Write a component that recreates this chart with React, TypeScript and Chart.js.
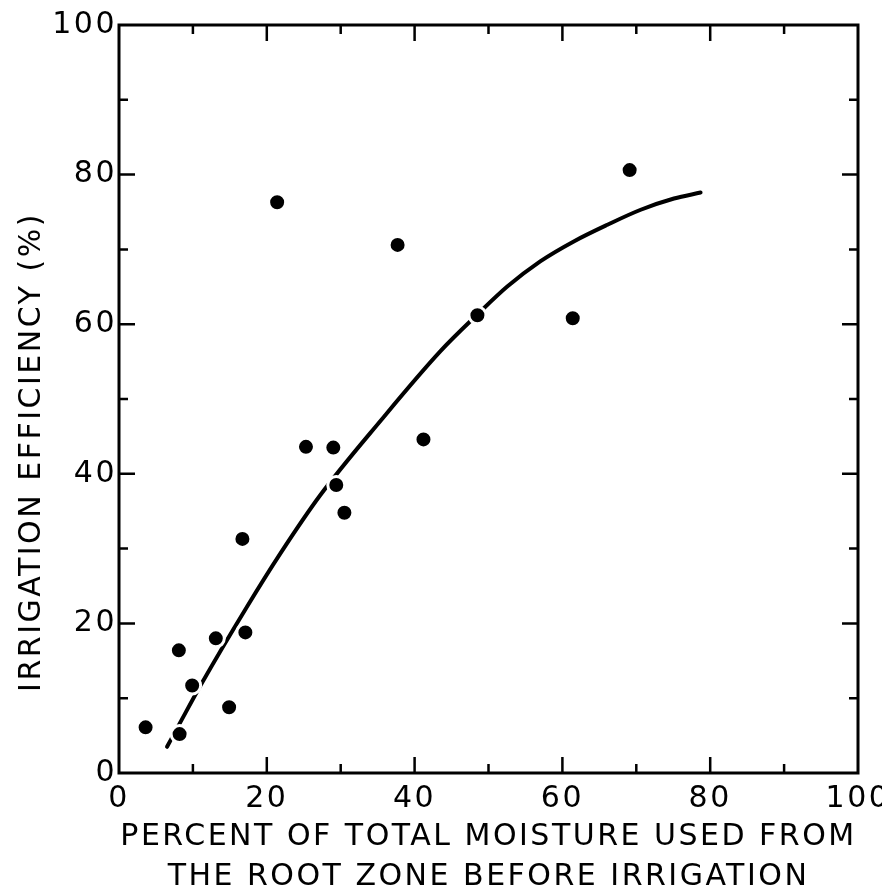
import React, { useEffect, useRef } from "react";
import { Chart, registerables } from "chart.js";

Chart.register(...registerables);

// Observed data points (percent moisture used, irrigation efficiency %)
const pointX = [3.6, 8.2, 8.1, 9.9, 13.1, 14.9, 16.7, 17.1, 21.4, 25.3, 29.0, 29.4, 30.5, 37.7, 41.2, 48.5, 61.4, 69.1];
const pointY = [6.1, 5.2, 16.4, 11.7, 18.0, 8.8, 31.3, 18.8, 76.3, 43.6, 43.5, 38.5, 34.8, 70.6, 44.6, 61.2, 60.8, 80.6];

// Fitted curve
const curveX = [6.5, 8.2, 11.2, 17.3, 21.8, 27.2, 35.4, 43.5, 48.5, 52.5, 57.0, 61.6, 66.1, 70.6, 75.1, 78.7];
const curveY = [3.5, 6.6, 12.0, 22.2, 29.3, 37.1, 47.1, 56.4, 61.3, 65.0, 68.4, 71.1, 73.3, 75.3, 76.8, 77.6];

const xTitle = ["PERCENT OF TOTAL MOISTURE USED FROM", "THE ROOT ZONE BEFORE IRRIGATION"];
const yTitle = "IRRIGATION EFFICIENCY (%)";

const FONT = "'DejaVu Sans', sans-serif";

const framePlugin = {
  id: "frame",
  beforeDraw(chart: any) {
    chart.ctx.letterSpacing = "2.5px";
  },
  afterDraw(chart: any) {
    const ctx = chart.ctx;
    const area = chart.chartArea;
    const left = area.left;
    const right = area.right;
    const top = area.top;
    const bottom = area.bottom;
    const x = chart.scales.x;
    const y = chart.scales.y;
    ctx.save();
    ctx.strokeStyle = "#000";
    ctx.lineWidth = 3;
    ctx.lineCap = "square";
    ctx.beginPath();
    ctx.moveTo(left, top);
    ctx.lineTo(right, top);
    ctx.lineTo(right, bottom);
    ctx.lineTo(left, bottom);
    ctx.closePath();
    ctx.stroke();
    ctx.lineWidth = 2.5;
    ctx.lineCap = "butt";
    ctx.beginPath();
    for (const t of x.ticks) {
      if (t.value <= 0 || t.value >= 100) continue;
      const px = x.getPixelForValue(t.value);
      const len = t.value % 20 === 0 ? 16 : 9;
      ctx.moveTo(px, bottom);
      ctx.lineTo(px, bottom - len);
      ctx.moveTo(px, top);
      ctx.lineTo(px, top + len);
    }
    for (const t of y.ticks) {
      if (t.value <= 0 || t.value >= 100) continue;
      const py = y.getPixelForValue(t.value);
      const len = t.value % 20 === 0 ? 16 : 9;
      ctx.moveTo(left, py);
      ctx.lineTo(left + len, py);
      ctx.moveTo(right, py);
      ctx.lineTo(right - len, py);
    }
    ctx.stroke();

    // y axis title
    ctx.fillStyle = "#000";
    ctx.font = "30px " + FONT;
    ctx.letterSpacing = "2.5px";
    ctx.textAlign = "center";
    ctx.textBaseline = "middle";
    ctx.translate(32, 452);
    ctx.rotate(-Math.PI / 2);
    ctx.fillText(yTitle, 0, 0);
    ctx.restore();
  },
};

export default function App() {
  const ref = useRef<HTMLCanvasElement | null>(null);

  useEffect(() => {
    if (!ref.current) return;
    const points = pointX.map((v, i) => ({ x: v, y: pointY[i] }));
    const curve = curveX.map((v, i) => ({ x: v, y: curveY[i] }));
    const tickFont = { family: FONT, size: 30 };
    const chart = new Chart(ref.current, {
      type: "scatter",
      data: {
        datasets: [
          {
            label: "Observed",
            data: points,
            backgroundColor: "#000",
            borderColor: "#fff",
            borderWidth: 3,
            pointRadius: 8.5,
            order: 0,
          },
          {
            label: "Fitted curve",
            data: curve,
            showLine: true,
            borderColor: "#000",
            borderWidth: 4,
            pointRadius: 0,
            cubicInterpolationMode: "monotone",
            borderCapStyle: "round",
            order: 1,
          } as any,
        ],
      },
      options: {
        animation: false,
        responsive: false,
        devicePixelRatio: 1,
        layout: { padding: { top: 25, right: 24, left: 0, bottom: 0 } },
        plugins: { legend: { display: false }, tooltip: { enabled: false } },
        scales: {
          x: {
            type: "linear",
            min: 0,
            max: 100,
            grid: { display: false, drawTicks: false },
            border: { display: false },
            ticks: {
              stepSize: 10,
              autoSkip: false,
              maxRotation: 0,
              padding: 8,
              color: "#000",
              font: tickFont,
              callback: (v: any) => (Number(v) % 20 === 0 ? String(v) : ""),
            },
            title: {
              display: true,
              text: xTitle,
              color: "#000",
              font: { family: FONT, size: 30, lineHeight: 40 / 30 },
              padding: { top: 0, bottom: -3 },
            },
            afterFit: (s: any) => {
              s.height = 121;
              s.paddingLeft = 0;
              s.paddingRight = 0;
            },
          },
          y: {
            type: "linear",
            min: 0,
            max: 100,
            grid: { display: false, drawTicks: false },
            border: { display: false },
            ticks: {
              stepSize: 10,
              autoSkip: false,
              padding: 2,
              color: "#000",
              font: tickFont,
              callback: (v: any) => (Number(v) % 20 === 0 ? String(v) : ""),
            },
            afterFit: (s: any) => {
              s.width = 119;
              s.paddingTop = 0;
              s.paddingBottom = 0;
            },
          },
        },
      },
      plugins: [framePlugin],
    });
    return () => chart.destroy();
  }, []);

  return (
    <div style={{ position: "absolute", left: 0, top: 0, width: 882, height: 894, background: "#fff" }}>
      <canvas ref={ref} width={882} height={894} />
    </div>
  );
}
